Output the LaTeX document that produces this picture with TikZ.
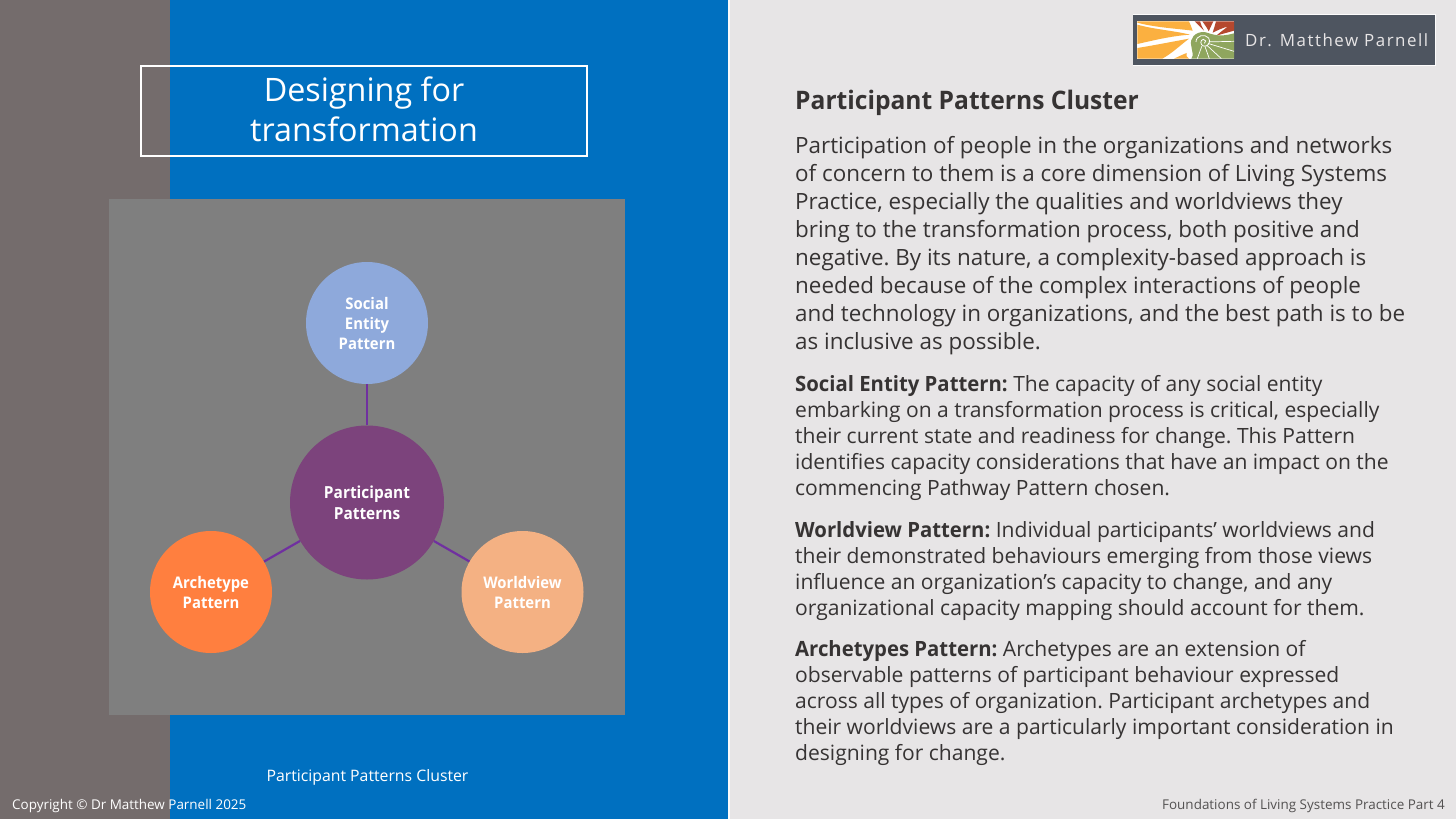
\documentclass[tikz,border=0pt]{standalone}
\usepackage{fontspec}
\setmainfont[BoldFeatures={FakeStretch=0.965}]{Open Sans}
\newfontfamily\logofont[LetterSpace=9]{Open Sans}
\newfontfamily\circfont[BoldFeatures={FakeStretch=0.93}]{Open Sans}
\definecolor{bandgrey}{HTML}{746C6C}
\definecolor{slideblue}{HTML}{0070C0}
\definecolor{panel}{HTML}{E7E5E6}
\definecolor{squaregrey}{HTML}{7F7F7F}
\definecolor{bodyink}{HTML}{363333}
\definecolor{centrecol}{HTML}{7C437C}
\definecolor{socialcol}{HTML}{8EA9DB}
\definecolor{archcol}{HTML}{FF7F3F}
\definecolor{worldcol}{HTML}{F4B183}
\definecolor{linkcol}{HTML}{7030A0}
\definecolor{logobg}{HTML}{4E5560}
\definecolor{logoorange}{HTML}{FBB040}
\definecolor{logored}{HTML}{B5482E}
\definecolor{logogreen}{HTML}{8FA65E}
\tikzset{
  x=1pt,y=-1pt,
  circ/.style={circle,inner sep=0pt,text=white,align=center,font=\fontsize{16}{20}\circfont\bfseries},
  bodytext/.style={anchor=north west,inner sep=0pt,align=left,text=bodyink,font=\fontsize{22.4}{28}\selectfont\frenchspacing},
  smalltext/.style={anchor=north west,inner sep=0pt,align=left,text=bodyink,font=\fontsize{21.05}{26}\selectfont\frenchspacing},
  link/.style={draw=linkcol,line width=2.2pt},
}
\begin{document}
\begin{tikzpicture}
\useasboundingbox (0,0) rectangle (1456,819);
\fill[slideblue] (0,0) rectangle (728,819);
\fill[bandgrey] (0,0) rectangle (170,819);
\fill[panel] (729,0) rectangle (1456,819);
\fill[white!85!panel] (728,0) rectangle (729.5,819);
\fill[squaregrey] (109,199) rectangle (625,715);
% title
\node[draw=white,line width=2.5pt,minimum width=446pt,minimum height=90pt,inner sep=0pt,text=white,align=center,font=\fontsize{32.3}{39}\selectfont] (title) at (364,111) {\raisebox{-9pt}[0pt][0pt]{\begin{tabular}{@{}c@{}}Designing for\\[1.2pt] transformation\end{tabular}}};
% diagram
\node[circ,fill=centrecol,minimum size=154pt,font=\fontsize{16.6}{21}\circfont\bfseries] (centre) at (367,502.5) {Participant\\Patterns};
\node[circ,fill=socialcol,minimum size=122pt] (social) at (367,323) {Social\\Entity\\Pattern};
\node[circ,fill=archcol,minimum size=122pt] (arch) at (211,592) {Archetype\\Pattern};
\node[circ,fill=worldcol,minimum size=122pt] (world) at (522.5,592) {Worldview\\Pattern};
\draw[link] (centre) -- (social);
\draw[link] (centre) -- (arch);
\draw[link] (centre) -- (world);
\node[text=white,inner sep=0pt,font=\fontsize{15.8}{20}\selectfont] (caption) at (367.5,777) {Participant Patterns Cluster};
\node[text=white,anchor=west,inner sep=0pt,font=\fontsize{13.45}{16}\selectfont] (copy) at (12,806) {Copyright © Dr Matthew Parnell 2025};
\node[text=bodyink!85!white,anchor=east,inner sep=0pt,font=\fontsize{13.45}{16}\selectfont] (foot) at (1445,806) {Foundations of Living Systems Practice Part 4};
% logo
\fill[white!90!panel] (1132.5,13.5) rectangle (1435.5,66);
\fill[logobg] (1133,15) rectangle (1435,65);
\begin{scope}[shift={(1134,18)},x=0.3333pt,y=-0.3333pt]
\fill[white] (10,10) rectangle (300,122);
% orange
\fill[logoorange] (10,10) -- (165,10) .. controls (170,20) and (172,28) .. (176,38) .. controls (130,32) and (60,28) .. (10,14) -- cycle;
\fill[logoorange] (10,20) .. controls (60,34) and (120,38) .. (168,50) .. controls (110,54) and (55,68) .. (10,78) -- cycle;
\fill[logoorange] (10,90) .. controls (60,82) and (110,72) .. (165,62) .. controls (135,85) and (115,105) .. (85,122) -- (10,122) -- cycle;
\fill[logoorange] (120,122) .. controls (135,115) and (145,110) .. (158,105) .. controls (155,112) and (158,118) .. (165,122) -- cycle;
% red
\fill[logored] (182,10) -- (300,10) -- (300,38) .. controls (280,44) and (262,48) .. (245,54) .. controls (255,46) and (268,36) .. (282,25) .. controls (265,30) and (248,38) .. (236,44) .. controls (240,30) and (244,20) .. (246,10) -- (238,10) .. controls (232,22) and (228,32) .. (224,40) .. controls (220,30) and (212,20) .. (205,10) -- (198,10) .. controls (200,20) and (206,30) .. (210,38) .. controls (200,28) and (190,18) .. (182,10) -- cycle;
% green
\fill[logogreen] (172,85) .. controls (165,60) and (185,42) .. (208,42) .. controls (225,42) and (245,62) .. (300,46) -- (300,122) -- (172,122) .. controls (180,112) and (174,100) .. (172,85) -- cycle;
% white rays over the green
\foreach \ex/\ey in {300/70,300/100,262/122,226/122,190/122}
  \draw[white,line width=.7pt] (208,72) -- (\ex,\ey);
\fill[logogreen] (208,70) circle (16);
\draw[white,line width=.8pt] (186,72) .. controls (186,52) and (212,46) .. (224,60) .. controls (232,72) and (222,88) .. (208,84) .. controls (198,80) and (198,66) .. (208,64) .. controls (216,63) and (218,74) .. (211,76);
\end{scope}
\node[text=panel,anchor=west,inner sep=0pt,font=\fontsize{16.9}{20}\logofont] (logoname) at (1245,40) {Dr. Matthew Parnell};
% right text
\node[anchor=north west,inner sep=0pt,text=bodyink,font=\fontsize{25.5}{30}\selectfont\bfseries] (head) at (795,90) {Participant Patterns Cluster};
\node[bodytext] (intro) at (795,136) {Participation of people in the organizations and networks\\of concern to them is a core dimension of Living Systems\\Practice, especially the qualities and worldviews they\\bring to the transformation process, both positive and\\negative. By its nature, a complexity-based approach is\\needed because of the complex interactions of people\\and technology in organizations, and the best path is to be\\as inclusive as possible.};
\node[smalltext] (p1) at (795,375) {\textbf{Social Entity Pattern:} The capacity of any social entity\\embarking on a transformation process is critical, especially\\their current state and readiness for change. This Pattern\\identifies capacity considerations that have an impact on the\\commencing Pathway Pattern chosen.};
\node[smalltext] (p2) at (795,521) {\textbf{Worldview Pattern:} Individual participants’ worldviews and\\their demonstrated behaviours emerging from those views\\influence an organization’s capacity to change, and any\\organizational capacity mapping should account for them.};
\node[smalltext] (p3) at (795,640) {\textbf{Archetypes Pattern:} Archetypes are an extension of\\observable patterns of participant behaviour expressed\\across all types of organization. Participant archetypes and\\their worldviews are a particularly important consideration in\\designing for change.};
\end{tikzpicture}
\end{document}
